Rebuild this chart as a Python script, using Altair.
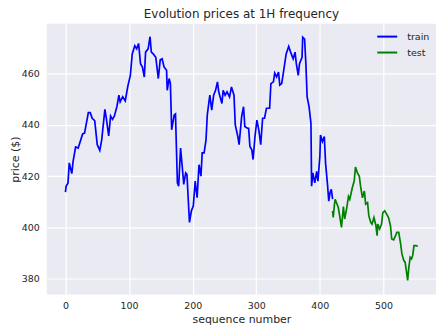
import altair as alt
import pandas as pd

train_x = [0, 1, 4, 6, 10, 12, 16, 20, 27, 30, 36, 39, 42, 46, 50, 54, 57, 62, 64, 68,
           71, 74, 77, 81, 84, 86, 90, 94, 98, 102, 105, 109, 112, 115, 118, 121, 124, 126,
           130, 133, 135, 138, 142, 146, 149, 152, 155, 159, 160, 163, 165, 167, 171, 173,
           176, 178, 181, 184, 186, 189, 191, 195, 198, 201, 204, 207, 210, 213, 215, 218,
           221, 223, 227, 230, 233, 236, 239, 241, 246, 248, 251, 254, 258, 261, 265, 267,
           271, 273, 277, 280, 282, 286, 288, 290, 293, 295, 298, 301, 304, 307, 310, 313,
           316, 321, 323, 327, 329, 332, 335, 337, 340, 344, 347, 351, 354, 358, 361, 363,
           366, 368, 372, 373, 376, 378, 380, 383, 386, 387, 389, 392, 395, 397, 400, 401,
           404, 407, 409, 412, 414, 416, 418, 420]
train_y = [413.8, 416.1, 417.4, 425.2, 421.0, 425.8, 431.4, 431.0, 436.5, 436.8, 444.8, 444.8,
           442.6, 441.7, 432.3, 430.1, 434.2, 446.1, 443.0, 435.7, 443.5, 442.2, 443.5, 447.3,
           451.6, 449.0, 451.0, 449.4, 455.0, 459.3, 467.7, 470.9, 469.7, 471.8, 463.9, 462.6,
           458.7, 468.4, 469.7, 474.4, 468.4, 467.7, 466.4, 458.1, 465.4, 465.8, 462.6, 461.3,
           453.5, 458.1, 456.1, 438.1, 443.9, 444.3, 417.4, 416.1, 431.0, 422.6, 416.8, 421.3,
           420.7, 402.0, 406.5, 408.4, 418.1, 411.6, 424.5, 420.0, 429.1, 429.1, 434.2, 443.9,
           451.6, 445.8, 451.6, 453.5, 456.8, 452.9, 448.4, 453.5, 451.6, 452.9, 450.9, 454.8,
           451.6, 440.0, 435.5, 432.3, 443.2, 447.1, 439.4, 438.7, 438.7, 431.6, 430.3, 426.5,
           435.5, 441.9, 438.1, 432.3, 442.6, 442.6, 446.5, 446.5, 456.1, 456.8, 460.2, 458.7,
           460.6, 455.5, 456.1, 462.6, 467.7, 470.6, 468.4, 465.8, 468.4, 463.9, 459.3, 463.9,
           466.4, 474.2, 473.5, 463.9, 450.9, 447.1, 440.6, 416.1, 421.3, 417.4, 421.9, 418.1,
           427.7, 436.1, 433.5, 435.5, 425.0, 416.8, 410.3, 413.6, 414.9, 411.1]

test_x = [420, 421, 423, 424, 429, 432, 434, 437, 439, 442, 445, 447, 451, 454, 456, 459,
          462, 464, 467, 470, 472, 475, 477, 480, 482, 485, 488, 490, 491, 494, 497, 499,
          502, 505, 508, 511, 513, 516, 519, 521, 524, 527, 529, 532, 534, 536, 538, 540,
          542, 544, 546, 548, 551, 554]
test_y = [406.5, 403.9, 409.1, 411.0, 407.8, 403.3, 400.0, 408.2, 403.3, 407.2, 412.1, 411.0,
          415.5, 418.1, 423.6, 421.3, 420.0, 416.1, 411.6, 414.2, 409.1, 409.7, 404.5, 402.0,
          401.3, 403.9, 400.9, 396.8, 401.3, 399.4, 401.3, 405.8, 406.5, 405.2, 403.9, 400.7,
          395.5, 395.2, 396.8, 398.1, 398.1, 393.6, 389.7, 387.1, 386.5, 383.2, 379.4, 384.6,
          388.4, 387.8, 389.1, 392.9, 392.9, 392.7]

x_ticks = [0, 100, 200, 300, 400, 500]
y_ticks = [380, 400, 420, 440, 460]
series_names = ["train", "test"]
series_colors = ["#0000ff", "#008000"]

df = pd.concat([
    pd.DataFrame({"seq": train_x, "price": train_y, "series": "train", "order": range(len(train_x))}),
    pd.DataFrame({"seq": test_x, "price": test_y, "series": "test", "order": range(len(test_x))}),
])

FONT = "DejaVu Sans"
TXT = "#262626"

chart = alt.Chart(df).mark_line(strokeWidth=1.7, clip=True).encode(
    x=alt.X("seq:Q", scale=alt.Scale(domain=[-29.3, 582.6], nice=False, zero=False),
            axis=alt.Axis(values=x_ticks, title="sequence number", labelPadding=6,
                          titlePadding=4, labelFontSize=9.5, titleFontSize=11)),
    y=alt.Y("price:Q", scale=alt.Scale(domain=[373.9, 479.5], nice=False, zero=False),
            axis=alt.Axis(values=y_ticks, title="price ($)", labelPadding=7.5,
                          titlePadding=1, labelFontSize=9.5, titleFontSize=11)),
    color=alt.Color("series:N", scale=alt.Scale(domain=series_names, range=series_colors),
                    legend=alt.Legend(title=None, orient="none", legendX=331, legendY=2,
                                      symbolType="stroke", symbolSize=400, symbolStrokeWidth=2,
                                      labelFontSize=9.6, labelOffset=9, rowPadding=0,
                                      labelFont=FONT, labelColor=TXT, padding=0)),
    order="order:Q",
).properties(
    width=391,
    height=272,
    title=alt.TitleParams("Evolution prices at 1H frequency", fontSize=12, font=FONT,
                          color=TXT, fontWeight="normal", offset=3),
    autosize=alt.AutoSizeParams(type="none"),
    padding={"left": 39, "top": 15, "right": 0, "bottom": 30},
).configure_view(
    fill="#EAEAF2", stroke=None
).configure_axis(
    grid=True, gridColor="#ffffff", gridWidth=1.2, domain=False, ticks=False,
    labelFont=FONT, titleFont=FONT, labelColor=TXT, titleColor=TXT,
    titleFontWeight="normal"
)

chart.save("out.html", embed_options={"renderer": "svg", "actions": False})
